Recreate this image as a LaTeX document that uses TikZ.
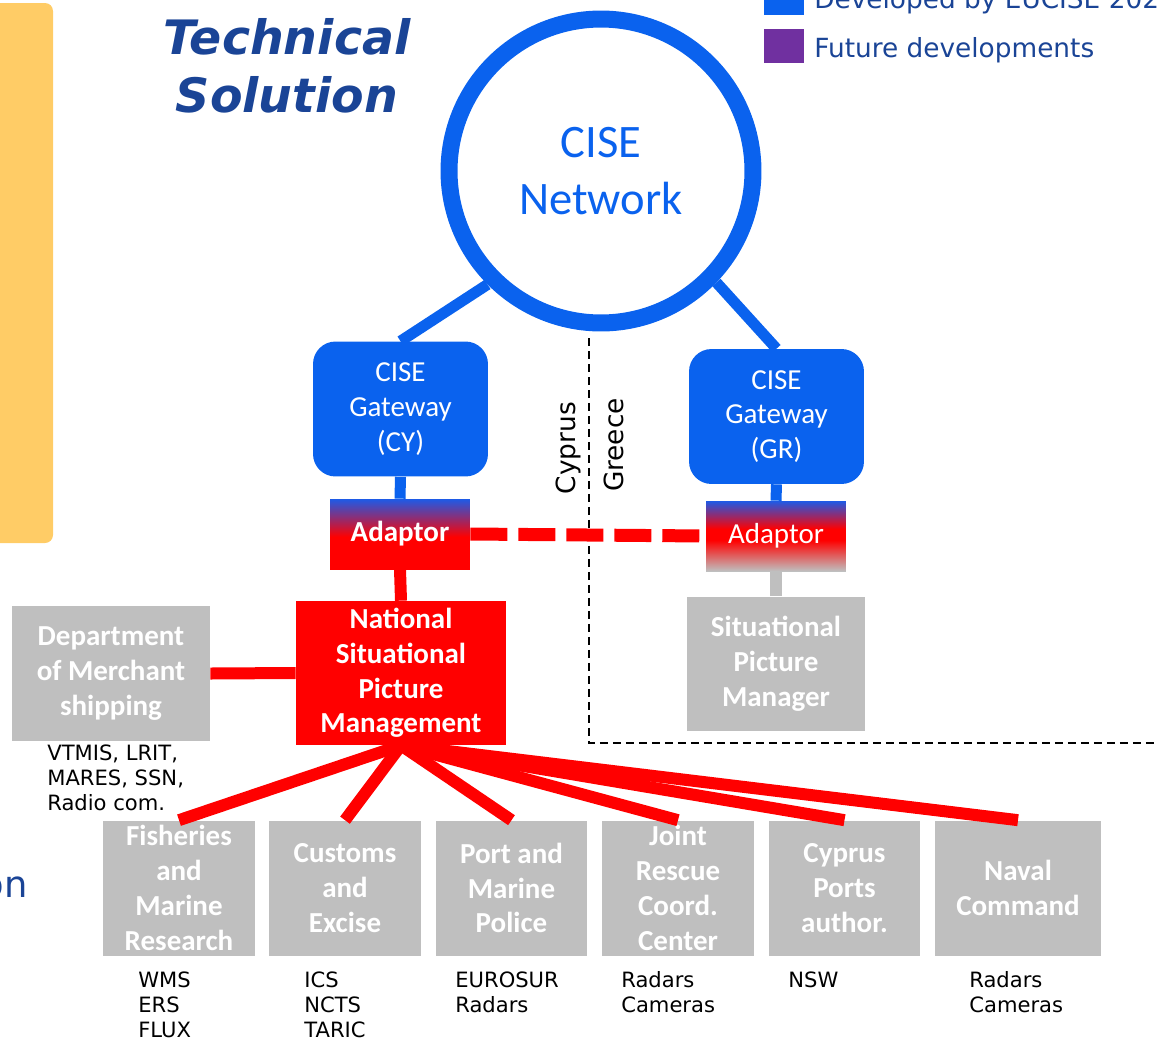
\documentclass[tikz,border=0pt]{standalone}
\usepackage{fontspec}
\setmainfont{Carlito}
\newfontfamily\verdfont{DejaVu Sans}

\definecolor{ciseblue}{RGB}{10,98,238}
\definecolor{adblue}{RGB}{30,90,230}
\definecolor{nspred}{RGB}{255,0,0}
\definecolor{boxgray}{RGB}{191,191,191}
\definecolor{panelorange}{RGB}{255,204,102}
\definecolor{futurepurple}{RGB}{112,48,160}
\definecolor{titleblue}{RGB}{26,68,150}

\newcommand{\boxsize}{\fontsize{16.5}{19.8}\selectfont}

\pgfdeclareverticalshading{adaptcy}{100bp}{color(0bp)=(nspred); color(48bp)=(nspred); color(75bp)=(adblue); color(100bp)=(adblue)}
\pgfdeclareverticalshading{adaptgr}{100bp}{color(0bp)=(boxgray); color(25bp)=(boxgray); color(47bp)=(nspred); color(55bp)=(nspred); color(75bp)=(adblue); color(100bp)=(adblue)}

\begin{document}
\begin{tikzpicture}[x=0.02cm, y=-0.02cm,
  gateway/.style={fill=ciseblue, rounded corners=0.45cm, minimum width=3.5cm, minimum height=2.7cm, inner sep=1pt, text=white, align=center, font=\boxsize},
  greybox/.style={fill=boxgray, minimum height=2.7cm, inner sep=1pt, text=white, align=center, font=\bfseries\boxsize},
  adaptor/.style={minimum width=2.8cm, minimum height=1.4cm, inner sep=1pt, text=white, font=\boxsize},
  legsquare/.style={minimum width=0.8cm, minimum height=0.68cm, inner sep=0, anchor=north west},
  legtext/.style={anchor=base west, inner sep=0, text=titleblue, font=\verdfont\fontsize{15}{18}\selectfont},
  sysnote/.style={anchor=north west, inner sep=0, align=left, font=\verdfont\fontsize{12}{14.5}\selectfont},
  bluelink/.style={draw=ciseblue, line width=0.22cm},
  redlink/.style={draw=nspred, line width=0.24cm},
  greylink/.style={draw=boxgray, line width=0.24cm},
  borderline/.style={draw=black, line width=0.8pt, dash pattern=on 0.16cm off 0.1cm}]
\useasboundingbox (0,0) rectangle (1157,1042);

\fill[panelorange, rounded corners=0.16cm] (-10,3) rectangle (53,543);
\node[anchor=base east, inner sep=0, text=titleblue, font=\verdfont\fontsize{21}{25}\selectfont] (cuttext) at (28,897) {on};

\node[text=titleblue, align=center, font=\verdfont\bfseries\itshape\fontsize{27}{33}\selectfont] (title) at (287,66) {Technical\\Solution};

% legend
\node[legsquare, fill=ciseblue] (legdev) at (764,-19) {};
\node[legsquare, fill=futurepurple] (legfut) at (764,29) {};
\node[legtext] (legdevtext) at (814,8.5) {Developed by EUCISE 2020};
\node[legtext] (legfuttext) at (814,57.5) {Future developments};

\node[circle, draw=ciseblue, line width=0.34cm, minimum size=6.08cm, text=ciseblue, align=center, font=\fontsize{26.5}{32.3}\selectfont] (cise) at (601,171) {CISE\\Network};

\node[gateway] (gwcy) at (400.5,409) {CISE\\Gateway\\(CY)};
\node[gateway] (gwgr) at (776.5,416.5) {CISE\\Gateway\\(GR)};

\node[adaptor, shade, shading=adaptcy, font=\bfseries\boxsize] (adcy) at (400,534) {Adaptor};
\node[adaptor, shade, shading=adaptgr] (adgr) at (776,536) {Adaptor};

\node[greybox, fill=nspred, minimum width=4.2cm, minimum height=2.88cm] (nspm) at (401,673) {National\\Situational\\Picture\\Management};
\node[greybox, minimum width=3.56cm] (spm) at (776,664) {Situational\\Picture\\Manager};
\node[greybox, minimum width=3.96cm, minimum height=2.72cm] (dms) at (111,673.5) {Department\\of Merchant\\shipping};

% national authorities
\node[greybox, minimum width=3.04cm] (fmr) at (179,888) {Fisheries\\and\\Marine\\Research};
\node[greybox, minimum width=3.04cm] (ce) at (345,888) {Customs\\and\\Excise};
\node[greybox, minimum width=3.04cm] (pmp) at (511.5,888) {Port and\\Marine\\Police};
\node[greybox, minimum width=3.04cm] (jrcc) at (678,888) {Joint\\Rescue\\Coord.\\Center};
\node[greybox, minimum width=3.04cm] (cpa) at (844.5,888) {Cyprus\\Ports\\author.};
\node[greybox, minimum width=3.32cm] (nc) at (1018,888) {Naval\\Command};

\node[sysnote] (dmsnote) at (47,744) {VTMIS, LRIT,\\MARES, SSN,\\Radio com.};
\node[sysnote] (fmrnote) at (138,971) {WMS\\ERS\\FLUX};
\node[sysnote] (cenote) at (304,971) {ICS\\NCTS\\TARIC};
\node[sysnote] (pmpnote) at (455,971) {EUROSUR\\Radars};
\node[sysnote] (jrccnote) at (621,971) {Radars\\Cameras};
\node[sysnote] (cpanote) at (788,971) {NSW};
\node[sysnote] (ncnote) at (969,971) {Radars\\Cameras};

% border between the two countries
\coordinate (bordtop) at (589,338);
\coordinate (bordturn) at (589,743);
\coordinate (bordend) at (1170,743);
\draw[borderline] (bordtop) -- (bordturn) -- (bordend);
\node[rotate=90, font=\verdfont\fontsize{15}{18}\selectfont] (cylabel) at (568,448) {Cyprus};
\node[rotate=90, font=\verdfont\fontsize{15}{18}\selectfont] (grlabel) at (614,445) {Greece};

% links
\draw[bluelink] (cise.225) -- (gwcy.north);
\draw[bluelink] (cise.-44) -- (gwgr.north);
\draw[bluelink] (gwcy.south) -- (adcy.north);
\draw[bluelink] (gwgr.south) -- (adgr.north);
\draw[redlink] (adcy.south) -- (nspm.north);
\draw[greylink] (adgr.south) -- (spm.north);
\draw[redlink, line width=0.26cm, dash pattern=on 0.74cm off 0.22cm] (adcy.east) -- (adgr.west);
\draw[redlink] (dms.east) -- (nspm.west);
\foreach \b in {fmr,ce,pmp,jrcc,cpa,nc}
  \draw[redlink] (nspm.south) -- (\b.north);
\end{tikzpicture}
\end{document}
